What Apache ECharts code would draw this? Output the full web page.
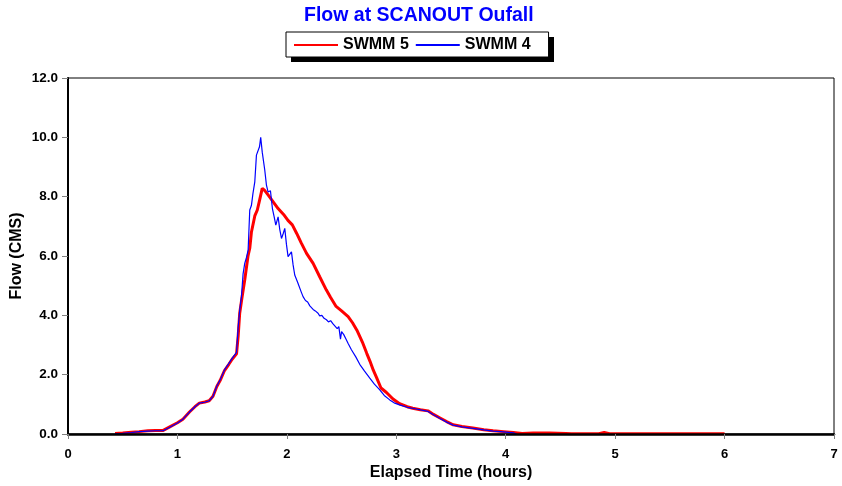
<!DOCTYPE html>
<html>
<head>
<meta charset="utf-8">
<script src="https://cdn.jsdelivr.net/npm/echarts@6/dist/echarts.min.js"></script>
<style>
html,body{margin:0;padding:0;background:#fff;}
#chart{width:842px;height:486px;}
</style>
</head>
<body>
<div id="chart"></div>
<script>
var titleText = 'Flow at SCANOUT Oufall';
var seriesNames = ['SWMM 5', 'SWMM 4'];
var xTicks = [0, 1, 2, 3, 4, 5, 6, 7];
var yTicks = [0, 2, 4, 6, 8, 10, 12];

var timeSwmm5 = [0.43,0.50,0.58,0.65,0.73,0.80,0.87,0.93,1.00,1.05,1.11,1.16,1.20,1.25,1.29,1.325,1.36,1.39,1.43,1.47,1.50,1.54,1.555,1.569,1.59,1.615,1.645,1.661,1.676,1.707,1.73,1.752,1.775,1.795,1.83,1.87,1.92,1.97,2.01,2.05,2.09,2.13,2.18,2.24,2.30,2.36,2.40,2.45,2.50,2.56,2.60,2.64,2.69,2.73,2.76,2.79,2.82,2.86,2.91,2.97,3.03,3.10,3.15,3.22,3.29,3.34,3.40,3.46,3.52,3.60,3.70,3.80,3.885,3.98,4.07,4.15,4.25,4.40,4.55,4.60,4.85,4.90,4.95,6.00];
var flowSwmm5 = [0.02,0.03,0.06,0.08,0.11,0.12,0.12,0.24,0.38,0.50,0.74,0.92,1.04,1.08,1.12,1.27,1.60,1.80,2.14,2.35,2.52,2.70,3.30,4.07,4.60,5.19,6.00,6.26,6.80,7.35,7.55,7.90,8.28,8.22,8.05,7.85,7.60,7.40,7.20,7.05,6.76,6.45,6.09,5.75,5.30,4.86,4.60,4.30,4.15,3.96,3.75,3.50,3.10,2.72,2.45,2.15,1.90,1.55,1.40,1.18,1.02,0.92,0.87,0.82,0.78,0.66,0.54,0.42,0.31,0.25,0.20,0.14,0.11,0.08,0.05,0.02,0.03,0.03,0.02,0.01,0.01,0.05,0.01,0.01];

var timeSwmm4 = [0.43,0.50,0.58,0.65,0.73,0.80,0.87,0.93,1.00,1.05,1.11,1.16,1.20,1.25,1.29,1.325,1.36,1.39,1.43,1.47,1.50,1.54,1.555,1.570,1.585,1.60,1.615,1.631,1.646,1.661,1.676,1.69,1.707,1.722,1.75,1.761,1.775,1.798,1.813,1.828,1.85,1.868,1.885,1.899,1.92,1.935,1.951,1.966,1.981,1.996,2.011,2.027,2.042,2.057,2.072,2.10,2.13,2.148,2.17,2.19,2.21,2.225,2.24,2.26,2.285,2.30,2.32,2.34,2.362,2.38,2.40,2.42,2.438,2.46,2.475,2.49,2.50,2.52,2.54,2.56,2.59,2.63,2.666,2.71,2.758,2.80,2.849,2.89,2.94,2.98,3.03,3.10,3.17,3.29,3.34,3.40,3.46,3.52,3.60,3.70,3.80,3.885,3.98,4.07,4.10];
var flowSwmm4 = [0.01,0.02,0.05,0.08,0.10,0.11,0.11,0.23,0.37,0.50,0.74,0.92,1.04,1.07,1.12,1.27,1.62,1.82,2.16,2.38,2.55,2.75,3.60,4.20,4.63,5.40,5.75,5.95,6.20,7.55,7.70,8.10,8.50,9.40,9.68,10.00,9.50,8.90,8.40,8.16,8.20,7.60,7.30,7.04,7.32,6.90,6.59,6.75,6.93,6.40,5.98,6.00,6.14,5.70,5.36,5.10,4.80,4.63,4.50,4.45,4.32,4.29,4.20,4.15,4.07,3.98,4.00,3.90,3.85,3.78,3.82,3.72,3.68,3.55,3.62,3.20,3.45,3.35,3.20,3.05,2.84,2.60,2.35,2.12,1.88,1.68,1.49,1.30,1.15,1.05,0.98,0.90,0.85,0.76,0.65,0.52,0.40,0.30,0.24,0.19,0.14,0.10,0.07,0.04,0.00];

function pairs(t, v) { return t.map(function (x, i) { return [x, v[i]]; }); }

var FONT = '"Liberation Sans", Arial, sans-serif';
var chart = echarts.init(document.getElementById('chart'), null, {renderer: 'canvas'});
chart.setOption({
  animation: false,
  backgroundColor: '#ffffff',
  title: {
    text: titleText,
    left: 299,
    top: 1,
    textStyle: {color: '#0000ff', fontSize: 19.5, fontWeight: 'bold', fontFamily: FONT}
  },
  graphic: [{
    type: 'rect',
    z: 0,
    silent: true,
    shape: {x: 291, y: 37, width: 263, height: 25},
    style: {fill: '#000000'}
  }],
  legend: {
    data: seriesNames,
    top: 32,
    left: 286,
    z: 10,
    padding: [5, 18, 4, 7],
    itemGap: 6,
    itemWidth: 44,
    itemHeight: 14,
    itemStyle: {opacity: 0},
    backgroundColor: '#ffffff',
    borderColor: '#000000',
    borderWidth: 1,
    textStyle: {color: '#000000', fontSize: 16, fontWeight: 'bold', fontFamily: FONT}
  },
  grid: {
    left: 68, right: 8, top: 78, bottom: 52,
    outerBoundsMode: 'none',
    containLabel: false,
    show: true, borderColor: '#000000', borderWidth: 1, backgroundColor: 'transparent'
  },
  xAxis: {
    type: 'value',
    z: 5,
    min: xTicks[0], max: xTicks[xTicks.length - 1], interval: 1,
    name: 'Elapsed Time (hours)',
    nameLocation: 'middle',
    nameGap: 31,
    nameMoveOverlap: false,
    nameTextStyle: {color: '#000000', fontSize: 16, fontWeight: 'bold', fontFamily: FONT},
    axisLine: {show: true, onZero: false, lineStyle: {color: '#000000', width: 2.5}},
    axisTick: {show: true, inside: false, length: 5, lineStyle: {color: '#808080', width: 1}},
    axisLabel: {color: '#000000', fontSize: 13, fontWeight: 'bold', fontFamily: FONT, margin: 14},
    splitLine: {show: false}
  },
  yAxis: {
    type: 'value',
    z: 5,
    min: yTicks[0], max: yTicks[yTicks.length - 1], interval: 2,
    name: 'Flow (CMS)',
    nameLocation: 'middle',
    nameRotate: 90,
    nameGap: 43,
    nameMoveOverlap: false,
    nameTextStyle: {color: '#000000', fontSize: 16, fontWeight: 'bold', fontFamily: FONT},
    axisLine: {show: true, onZero: false, lineStyle: {color: '#000000', width: 2}},
    axisTick: {show: true, inside: false, length: 6, lineStyle: {color: '#808080', width: 1}},
    axisLabel: {color: '#000000', fontSize: 13.5, fontWeight: 'bold', fontFamily: FONT, margin: 10,
      formatter: function (v) { return v.toFixed(1); }},
    splitLine: {show: false}
  },
  series: [
    {
      name: seriesNames[0],
      type: 'line',
      data: pairs(timeSwmm5, flowSwmm5),
      symbol: 'none',
      showSymbol: false,
      lineStyle: {color: '#ff0000', width: 3},
      itemStyle: {color: '#ff0000'},
      z: 2
    },
    {
      name: seriesNames[1],
      type: 'line',
      data: pairs(timeSwmm4, flowSwmm4),
      symbol: 'none',
      showSymbol: false,
      lineStyle: {color: '#0000ff', width: 1.2},
      itemStyle: {color: '#0000ff'},
      z: 3
    }
  ]
});
</script>
</body>
</html>
